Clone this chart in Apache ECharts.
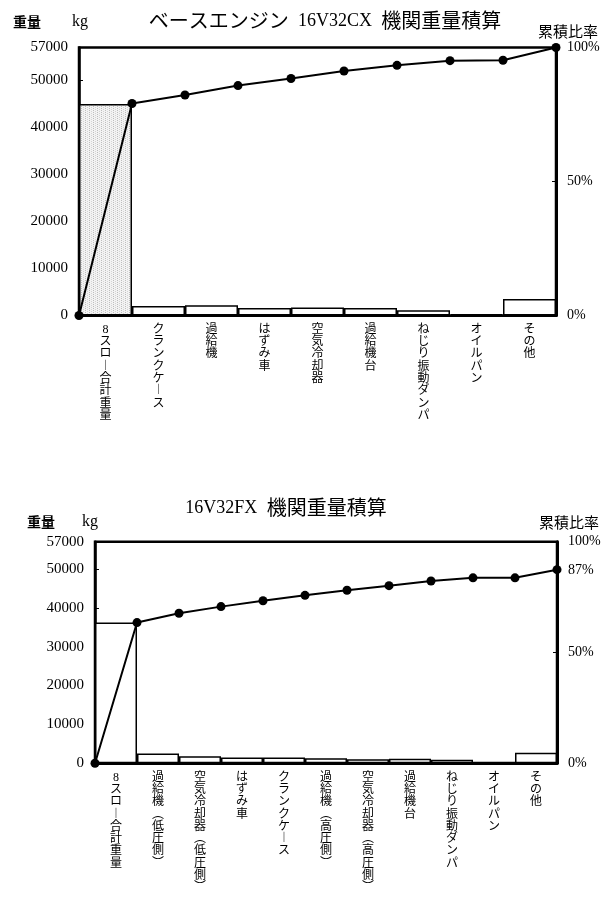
<!DOCTYPE html>
<html>
<head>
<meta charset="utf-8">
<script src="https://cdn.jsdelivr.net/npm/echarts@6/dist/echarts.min.js"></script>
<style>
html,body{margin:0;padding:0;background:#fff;}
#c{width:613px;height:903px;}
</style>
</head>
<body>
<div id="c"></div>
<script>
// ---------- data ----------
const titles = ['ベースエンジン 16V32CX 機関重量積算', '16V32FX 機関重量積算'];
const leftAxisName = '重量';
const leftAxisUnit = 'kg';
const rightAxisName = '累積比率';

const categories1 = ['8スロー合計重量','クランクケース','過給機','はずみ車','空気冷却器','過給機台','ねじり振動ダンパ','オイルパン','その他'];
const weights1 = [45000, 2000, 2200, 1600, 1700, 1600, 1100, 300, 3500];
const cumulative1 = [0, 45100, 46900, 48900, 50400, 52000, 53200, 54200, 54300, 57000];

const categories2 = ['8スロー合計重量','過給機（低圧側）','空気冷却器（低圧側）','はずみ車','クランクケース','過給機（高圧側）','空気冷却器（高圧側）','過給機台','ねじり振動ダンパ','オイルパン','その他'];
const weights2 = [36200, 2500, 1800, 1500, 1500, 1300, 1050, 1200, 900, 400, 2700];
const cumulative2 = [0, 36200, 38600, 40300, 41800, 43200, 44500, 45700, 46900, 47700, 47700, 49800];

const weightMax = 57000;
const weightTicks = [0, 10000, 20000, 30000, 40000, 50000];
const weightLabels = [0, 10000, 20000, 30000, 40000, 50000, 57000];
const percentTicks = [0, 50, 100];

// ---------- helpers ----------
const SERIF = "'Liberation Serif','Noto Sans CJK JP',serif";
const JP = "'Noto Sans CJK JP',sans-serif";

function vert(s) {
  const map = {'ー':'︱','（':'︵','）':'︶','(':'︵',')':'︶'};
  return Array.from(s).map(ch => map[ch] || ch).join('\n');
}

function richTitle(s) {
  // latin runs in serif, others in CJK font
  return s.replace(/([\x21-\x7e]+)|([^\x20-\x7e]+)/g, (m, a, b) => a ? '{l|' + a + '}' : '{j|' + b + '}');
}

function stipple() {
  const c = document.createElement('canvas');
  c.width = 4; c.height = 4;
  const g = c.getContext('2d');
  g.fillStyle = '#f3f3f3'; g.fillRect(0, 0, 4, 4);
  g.fillStyle = '#bdbdbd';
  g.fillRect(1, 0, 1, 1); g.fillRect(1, 2, 1, 1);
  g.fillStyle = '#d4d4d4';
  g.fillRect(3, 1, 1, 1); g.fillRect(3, 3, 1, 1);
  return c;
}

function pctOf(v) { return Math.round(v / weightMax * 100); }

const grids = [
  {left: 79, width: 477, top: 47.5, height: 268},
  {left: 95, width: 462, top: 541.7, height: 221.6}
];

function xAxes(gi, cats, cum) {
  return [
    {
      gridIndex: gi, type: 'category', data: cats, boundaryGap: true,
      axisLine: {show: true, lineStyle: {color: '#000', width: 2}},
      axisTick: {show: false},
      axisLabel: {
        interval: 0, formatter: vert, color: '#000', fontSize: 12, lineHeight: 12.3,
        fontFamily: SERIF, margin: 8, verticalAlign: 'top', align: 'center'
      }
    },
    {
      gridIndex: gi, type: 'category', data: cum.map((_, i) => String(i)),
      boundaryGap: false, show: false
    }
  ];
}

function yAxes(gi, cumLast, leftSize, rightSize) {
  const p = pctOf(cumLast);
  const pLabels = Array.from(new Set(percentTicks.concat([p]))).sort((a, b) => a - b);
  return [
    {
      gridIndex: gi, type: 'value', min: 0, max: weightMax, interval: 10000, position: 'left',
      axisLine: {show: true, lineStyle: {color: '#000', width: 2.5}},
      axisTick: {show: true, inside: true, length: 4, lineStyle: {color: '#000', width: 1}, customValues: weightTicks},
      splitLine: {show: false},
      axisLabel: {
        customValues: weightLabels, formatter: v => String(v), color: '#000',
        fontSize: leftSize, fontFamily: SERIF, margin: 11
      }
    },
    {
      gridIndex: gi, type: 'value', min: 0, max: 100, interval: 50, position: 'right',
      axisLine: {show: true, lineStyle: {color: '#000', width: 3}},
      axisTick: {show: true, inside: true, length: 4, lineStyle: {color: '#000', width: 1}, customValues: [50]},
      splitLine: {show: false},
      axisLabel: {
        customValues: pLabels, formatter: v => v + '%', color: '#000',
        fontSize: rightSize, fontFamily: SERIF, margin: 11
      }
    }
  ];
}

function seriesFor(gi, weights, cum, shadeFirst) {
  const xb = gi * 2, yb = gi * 2;
  return [
    {
      type: 'bar', xAxisIndex: xb, yAxisIndex: yb, barCategoryGap: '0%', silent: true,
      data: weights.map((v, i) => (i === 0 && shadeFirst)
        ? {value: v, itemStyle: {color: {image: stipple(), repeat: 'repeat'}}}
        : v),
      itemStyle: {color: '#ffffff', borderColor: '#000', borderWidth: 1.5},
      z: 2
    },
    {
      type: 'line', xAxisIndex: xb + 1, yAxisIndex: yb, data: cum, silent: true,
      symbol: 'circle', symbolSize: 9, showAllSymbol: true,
      itemStyle: {color: '#000'},
      lineStyle: {color: '#000', width: 2},
      z: 5
    }
  ];
}

function headerTexts(idx, titleX, titleY, nameX, nameY, unitX, rightX, rightY) {
  return [
    {
      type: 'text', x: titleX, y: titleY,
      style: {
        text: richTitle(titles[idx]), align: 'center', verticalAlign: 'middle', fill: '#000',
        rich: {
          j: {fontSize: 20, lineHeight: 24, verticalAlign: 'bottom', fontFamily: JP, fill: '#000'},
          l: {fontSize: 18, lineHeight: 24, verticalAlign: 'bottom', fontFamily: "'Liberation Serif',serif", fill: '#000', padding: [0, 6, 0, 6]}
        }
      }
    },
    {
      type: 'text', x: nameX, y: nameY,
      style: {text: leftAxisName, fontSize: 14, fontWeight: 'bold', fontFamily: JP, fill: '#000', verticalAlign: 'middle'}
    },
    {
      type: 'text', x: unitX, y: nameY,
      style: {text: leftAxisUnit, fontSize: 16, fontFamily: "'Liberation Serif',serif", fill: '#000', verticalAlign: 'middle'}
    },
    {
      type: 'text', x: rightX, y: rightY,
      style: {text: rightAxisName, fontSize: 15, fontFamily: JP, fill: '#000', verticalAlign: 'middle'}
    }
  ];
}

const g1 = headerTexts(0, 325, 18, 13, 22, 72, 538, 31);
const g2 = headerTexts(1, 283, 505, 27, 522, 82, 539, 522);

const chart = echarts.init(document.getElementById('c'), null, {renderer: 'canvas'});
chart.setOption({
  animation: false,
  backgroundColor: '#fff',
  grid: grids.map(g => Object.assign({show: true, borderColor: '#000', borderWidth: 2.5, backgroundColor: 'transparent', containLabel: false}, g)),
  xAxis: xAxes(0, categories1, cumulative1).concat(xAxes(1, categories2, cumulative2)),
  yAxis: yAxes(0, cumulative1[cumulative1.length - 1], 15, 14).concat(yAxes(1, cumulative2[cumulative2.length - 1], 15, 14)),
  series: seriesFor(0, weights1, cumulative1, true).concat(seriesFor(1, weights2, cumulative2, false)),
  graphic: g1.concat(g2)
});
</script>
</body>
</html>
